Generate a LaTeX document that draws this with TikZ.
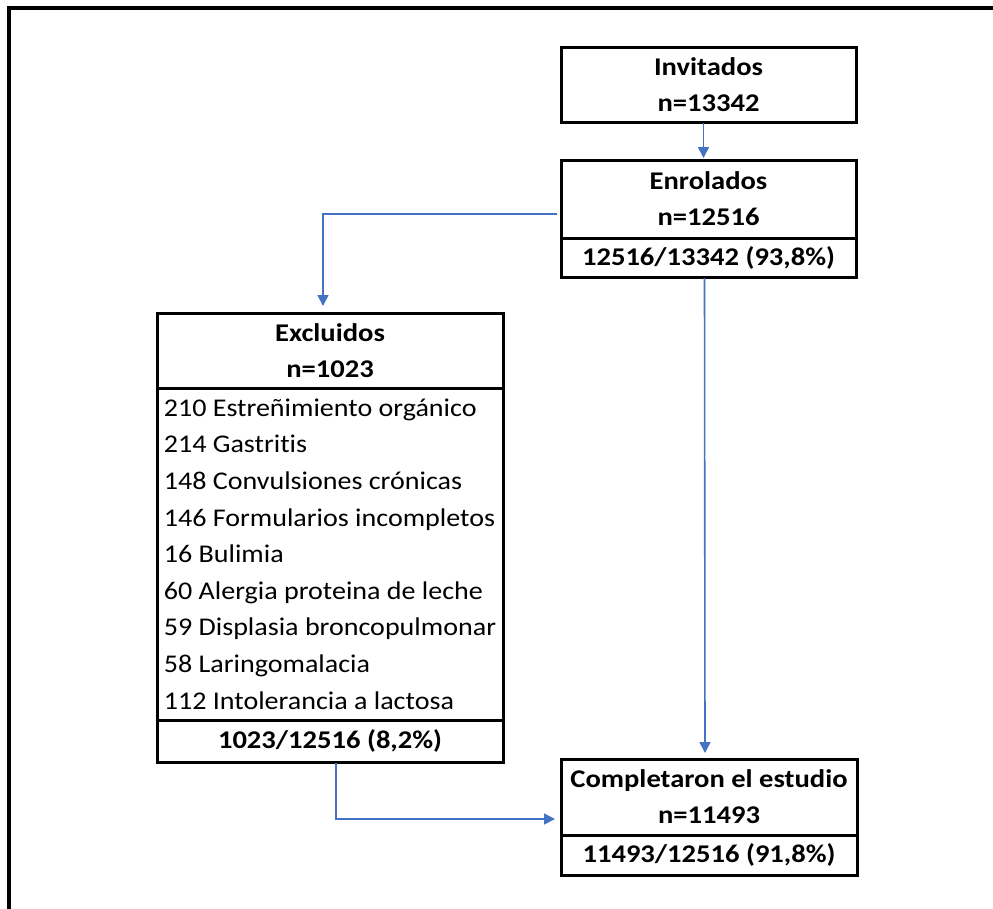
\documentclass[tikz,border=0pt]{standalone}
\usepackage{fontspec}
\setmainfont{Carlito}[Ligatures=NoCommon, FakeStretch=1.10, BoldFeatures={FakeStretch=1.12}]
\usetikzlibrary{arrows.meta}
\definecolor{flowblue}{HTML}{4472C4}
\begin{document}
\begin{tikzpicture}[x=1pt,y=-1pt,
  box/.style={draw=black, line width=3pt, rectangle, anchor=north west, inner sep=0pt, outer sep=0pt,
    align=center, minimum width=#1, font=\fontsize{25.5}{36}\selectfont\bfseries},
  listbox/.style={draw=black, line width=3pt, rectangle, anchor=north west, inner sep=0pt, outer sep=0pt,
    align=left, minimum width=346pt, font=\fontsize{25.5}{36.6}\selectfont},
  conn/.style={draw=flowblue, line width=1.6pt, -{Triangle[length=11pt,width=11pt]}}]
\useasboundingbox (0,0) rectangle (993,908);
\clip (0,0) rectangle (993,908);
\draw[line width=4pt] (9,940) -- (9,8) -- (1010,8);
% Invitados
\node[box=295pt, minimum height=75pt] (inv) at (561,47) {Invitados\\n=13342};
% Enrolados
\node[box=295pt, minimum height=78pt] (enrA) at (561,160) {Enrolados\\n=12516};
\node[box=295pt, minimum height=39pt] (enrB) at (561,238) {12516/13342 (93,8\%)};
% Excluidos
\node[box=346pt, minimum height=75pt] (exH) at (157,313) {Excluidos\\n=1023};
\node[listbox, minimum height=332pt] (exL) at (157,388) {210 Estreñimiento orgánico\\214 Gastritis\\148 Convulsiones crónicas\\146 Formularios incompletos\\16 Bulimia\\60 Alergia proteina de leche\\59 Displasia broncopulmonar\\58 Laringomalacia\\112 Intolerancia a lactosa};
\node[box=346pt, minimum height=42pt] (exT) at (157,720) {1023/12516 (8,2\%)};
% Completaron
\node[box=296pt, minimum height=76pt] (compA) at (561,759) {Completaron el estudio\\n=11493};
\node[box=296pt, minimum height=40pt] (compB) at (561,835) {11493/12516 (91,8\%)};
% connectors
\draw[conn, shorten >=2pt, shorten <=1pt] ([xshift=-5pt]inv.south) -- ([xshift=-5pt]enrA.north);
\draw[conn, shorten >=7pt, shorten <=4pt] ([yshift=-15pt]enrA.west) -| ([xshift=-7pt]exH.north);
\draw[conn, shorten >=6pt, shorten <=1pt] ([xshift=-4pt]enrB.south) -- ([xshift=-4pt]compA.north);
\draw[conn, shorten >=6pt, shorten <=1pt] ([xshift=6pt]exT.south) |- ([yshift=16pt]compA.south west);
\end{tikzpicture}
\end{document}
